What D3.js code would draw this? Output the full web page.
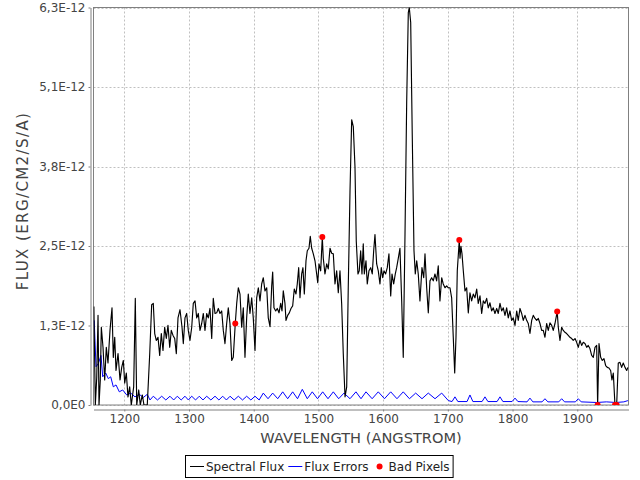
<!DOCTYPE html>
<html><head><meta charset="utf-8">
<script src="https://cdn.jsdelivr.net/npm/d3@7"></script>
<style>body{margin:0;background:#fff}svg{display:block}</style>
</head><body><svg id="c" width="640" height="480"></svg>
<script>
// Spectral flux [wavelength (Angstrom), flux (1e-12 erg/cm2/s/A)]
const fluxPoints = [
[1153.0,1.57],[1155.2,0.00],[1157.4,0.44],[1159.4,1.43],[1160.9,0.00],[1162.9,0.40],[1164.5,1.24],[1167.1,0.92],[1169.7,0.40],[1172.2,0.92],
[1174.8,0.67],[1177.9,1.19],[1181.0,1.55],[1183.0,0.76],[1185.2,1.08],[1187.2,0.55],[1190.3,0.82],[1193.4,0.40],[1196.0,0.60],[1198.5,0.71],
[1200.6,0.35],[1203.1,0.51],[1205.7,0.13],[1208.3,0.29],[1210.8,0.00],[1214.5,0.29],[1217.0,1.70],[1219.2,0.00],[1222.3,0.24],[1224.7,0.00],
[1227.8,0.16],[1230.4,0.00],[1235.5,0.00],[1239.3,0.82],[1242.3,1.60],[1244.8,1.62],[1247.0,1.14],[1249.4,1.03],[1252.1,1.08],[1254.7,0.79],
[1257.2,1.14],[1259.8,0.87],[1262.4,1.24],[1264.9,1.06],[1267.5,1.27],[1270.2,0.92],[1272.6,1.19],[1275.3,1.11],[1277.9,1.06],[1280.4,0.82],
[1283.0,1.39],[1286.1,1.52],[1289.2,1.24],[1291.2,0.98],[1293.8,1.39],[1296.4,1.46],[1298.9,1.19],[1301.5,1.03],[1304.2,1.24],[1306.6,1.62],
[1309.3,1.66],[1311.9,1.39],[1314.4,1.46],[1317.0,1.19],[1319.6,1.30],[1322.1,1.46],[1324.7,1.19],[1327.3,1.46],[1329.8,1.39],[1332.4,1.54],
[1335.1,1.06],[1337.5,1.70],[1340.2,1.46],[1342.8,1.47],[1345.3,1.54],[1347.9,1.46],[1350.5,1.50],[1353.0,1.19],[1355.6,0.98],[1358.2,1.30],
[1360.7,1.55],[1363.3,1.30],[1366.0,0.71],[1368.4,0.76],[1371.5,1.30],[1373.7,1.62],[1376.2,1.87],[1378.8,1.77],[1381.4,1.24],[1383.9,1.55],
[1386.5,0.76],[1389.1,1.39],[1391.6,1.77],[1394.2,1.46],[1396.9,1.71],[1399.3,1.39],[1402.0,0.87],[1404.6,1.71],[1407.1,1.87],[1409.7,1.66],
[1412.3,1.93],[1414.8,2.03],[1417.4,1.82],[1420.1,1.87],[1422.5,1.39],[1425.2,1.25],[1427.8,1.90],[1429.3,2.12],[1431.3,1.55],[1434.0,1.50],
[1436.4,1.54],[1439.1,1.47],[1441.7,1.62],[1443.7,1.50],[1445.7,1.82],[1448.3,1.62],[1449.9,1.35],[1452.5,1.43],[1455.0,1.47],[1457.6,1.54],
[1460.2,1.58],[1462.7,1.85],[1465.3,1.77],[1467.3,1.93],[1469.5,2.19],[1471.5,1.71],[1474.1,2.09],[1476.1,2.19],[1478.2,1.77],[1480.8,2.30],
[1482.8,2.46],[1485.4,2.50],[1487.4,2.69],[1489.6,2.50],[1492.1,2.41],[1494.7,2.30],[1497.3,2.09],[1498.9,1.95],[1500.9,2.25],[1503.5,2.14],
[1506.0,2.68],[1507.5,2.34],[1510.1,2.09],[1512.8,2.25],[1515.2,2.17],[1517.9,2.50],[1520.5,2.42],[1523.0,2.41],[1525.6,1.93],[1528.2,2.14],
[1530.7,1.79],[1533.3,2.14],[1535.9,1.62],[1538.4,0.82],[1541.1,0.13],[1543.7,0.29],[1546.1,1.87],[1548.8,3.41],[1551.4,4.55],[1553.9,4.44],
[1556.5,3.80],[1558.5,2.61],[1561.1,2.09],[1563.1,2.14],[1565.3,2.46],[1567.3,2.09],[1569.3,2.57],[1570.9,2.09],[1573.5,2.30],[1575.5,1.93],
[1578.1,2.14],[1580.8,2.19],[1583.2,2.09],[1585.4,2.46],[1587.4,2.72],[1590.0,2.25],[1592.5,2.14],[1595.1,1.93],[1597.1,2.19],[1599.3,2.03],
[1601.3,2.14],[1603.9,2.09],[1606.4,2.19],[1609.0,2.41],[1611.7,1.74],[1613.7,2.09],[1616.3,1.93],[1618.8,2.09],[1620.9,2.19],[1623.4,2.34],
[1626.0,2.50],[1628.7,1.66],[1631.1,0.76],[1633.8,2.72],[1636.4,4.83],[1638.9,6.26],[1640.4,6.34],[1642.6,6.10],[1645.0,4.31],[1647.7,2.46],
[1649.7,2.09],[1651.9,2.30],[1654.3,2.09],[1656.9,1.66],[1660.0,2.19],[1662.7,2.03],[1664.7,2.41],[1667.3,1.87],[1669.8,1.47],[1672.4,1.98],
[1675.0,2.03],[1677.5,1.98],[1680.1,2.09],[1682.7,1.98],[1685.2,2.22],[1687.8,1.66],[1690.5,2.03],[1692.9,1.93],[1695.6,1.87],[1698.2,1.90],
[1700.7,1.87],[1703.3,1.87],[1705.9,1.71],[1708.4,1.08],[1710.6,0.51],[1712.6,1.08],[1714.6,2.14],[1717.7,2.63],[1718.8,2.34],[1720.3,2.53],
[1721.9,2.41],[1723.9,2.14],[1726.5,1.82],[1729.1,1.87],[1731.6,1.47],[1734.2,1.79],[1736.8,1.66],[1739.3,1.77],[1741.9,1.71],[1744.6,1.85],
[1747.0,1.62],[1749.7,1.74],[1752.3,1.46],[1754.8,1.66],[1757.4,1.62],[1760.0,1.70],[1762.5,1.55],[1765.1,1.63],[1767.7,1.50],[1770.2,1.55],
[1772.8,1.46],[1775.5,1.54],[1777.9,1.46],[1780.6,1.62],[1783.2,1.50],[1785.7,1.55],[1788.3,1.43],[1790.9,1.55],[1793.4,1.39],[1796.0,1.50],
[1798.6,1.35],[1801.1,1.39],[1803.8,1.27],[1806.4,1.50],[1808.8,1.35],[1811.5,1.54],[1814.1,1.46],[1816.6,1.35],[1819.2,1.43],[1821.8,1.35],
[1824.3,1.30],[1826.9,1.14],[1829.6,1.35],[1832.0,1.43],[1834.7,1.38],[1837.3,1.35],[1839.8,1.38],[1842.4,1.30],[1845.0,1.19],[1847.5,1.19],
[1850.1,1.08],[1852.7,1.30],[1855.2,1.19],[1857.8,1.31],[1860.5,1.27],[1862.9,1.19],[1865.6,1.30],[1869.0,1.49],[1870.7,1.24],[1873.3,1.03],
[1875.9,1.24],[1878.4,1.19],[1881.0,1.16],[1883.6,1.14],[1886.1,1.11],[1888.7,1.08],[1891.4,1.06],[1893.8,1.03],[1896.5,1.06],[1899.1,1.00],
[1901.6,0.92],[1904.2,1.03],[1906.8,0.95],[1909.3,1.00],[1911.9,0.98],[1914.6,0.92],[1917.0,0.95],[1919.6,0.90],[1922.3,0.79],[1924.8,0.76],
[1927.4,0.92],[1930.0,0.95],[1931.5,0.00],[1933.6,0.98],[1936.2,0.76],[1938.7,0.71],[1941.3,0.74],[1943.9,0.63],[1946.4,0.60],[1949.0,0.59],
[1951.6,0.55],[1953.6,0.40],[1955.7,0.51],[1958.3,0.00],[1960.9,0.00],[1963.4,0.67],[1966.0,0.68],[1968.6,0.60],[1971.1,0.67],[1973.8,0.60],
[1976.4,0.55],[1978.3,0.60]
];
// Flux errors [wavelength, error]
const errorPoints = [
[1153.5,1.35],[1156.3,0.61],[1159.8,0.66],[1164.0,0.79],[1166.6,0.45],[1171.3,0.51],[1175.3,0.42],[1179.0,0.45],[1183.0,0.29],[1187.2,0.32],
[1192.3,0.21],[1197.5,0.24],[1203.7,0.16],[1209.9,0.19],[1216.5,0.13],[1223.2,0.17],[1229.4,0.12],[1235.5,0.17],[1239.7,0.08],
[1244.8,0.14],[1251.3,0.08],[1257.8,0.14],[1264.2,0.08],[1270.6,0.14],[1276.3,0.08],[1281.9,0.14],[1287.9,0.08],[1293.8,0.14],[1299.0,0.08],
[1304.2,0.14],[1310.1,0.08],[1315.9,0.14],[1321.6,0.08],[1327.3,0.14],[1333.8,0.08],[1340.2,0.14],[1346.2,0.08],[1352.1,0.14],[1357.8,0.08],
[1363.4,0.14],[1369.8,0.08],[1376.2,0.14],[1382.7,0.08],[1389.1,0.14],[1395.6,0.08],[1402.0,0.14],[1408.4,0.08],[1414.8,0.19],[1422.1,0.10],
[1429.3,0.19],[1437.1,0.10],[1444.8,0.21],[1452.5,0.10],[1460.2,0.21],[1467.7,0.10],[1475.1,0.25],[1482.8,0.10],[1490.5,0.21],[1498.6,0.10],
[1506.6,0.21],[1514.8,0.10],[1523.0,0.21],[1531.3,0.10],[1539.5,0.19],[1548.8,0.10],[1558.0,0.21],[1565.8,0.10],[1573.5,0.21],[1583.0,0.10],
[1592.5,0.21],[1602.1,0.10],[1611.7,0.21],[1621.4,0.10],[1631.1,0.21],[1640.7,0.10],[1650.3,0.19],[1660.1,0.10],[1669.8,0.19],[1680.2,0.10],
[1690.5,0.19],[1700.8,0.07],[1706.5,0.055],[1711.0,0.13],[1715.5,0.055],[1729.7,0.055],[1734.2,0.16],[1738.7,0.055],[1752.9,0.055],[1757.4,0.13],
[1761.9,0.055],[1776.1,0.055],[1780.6,0.13],[1785.1,0.055],[1799.3,0.055],[1803.8,0.11],[1808.3,0.055],[1822.4,0.05],[1826.9,0.11],[1831.4,0.05],
[1845.6,0.05],[1850.1,0.10],[1854.6,0.05],[1871.4,0.05],[1875.9,0.10],[1880.4,0.05],[1897.1,0.05],[1901.6,0.10],[1906.1,0.05],[1930.0,0.04],
[1945.0,0.05],[1960.0,0.04],[1972.0,0.05],[1978.3,0.07]
];
// Bad pixels [wavelength, flux]
const badPixels = [[1371.5,1.30],[1506.0,2.68],[1717.7,2.63],[1869.0,1.49],[1931.5,0.00],[1958.3,0.00],[1960.9,0.00]];

const xTicks = [1200,1300,1400,1500,1600,1700,1800,1900];
const yTicks = [0,1.268,2.536,3.804,5.072,6.34];
const yTickLabels = ["0,0E0","1,3E-12","2,5E-12","3,8E-12","5,1E-12","6,3E-12"];
const xTitle = "WAVELENGTH (ANGSTROM)";
const yTitle = "FLUX (ERG/CM2/S/A)";
const legendLabels = ["Spectral Flux","Flux Errors","Bad Pixels"];
const seriesColors = ["#000000","#0000ff","#ff0000"];

const svg = d3.select("#c");
const L = 93.5, R = 628.5, T = 7.5, B = 405;
const x = d3.scaleLinear().domain([1152.4, 1979.2]).range([L, R]);
const y = d3.scaleLinear().domain([0, 6.34]).range([B, T]);
const font = "'DejaVu Sans', sans-serif";

svg.append("defs").append("clipPath").attr("id","clip")
  .append("rect").attr("x",L).attr("y",T).attr("width",R-L).attr("height",B-T);

// grid
const grid = svg.append("g").attr("stroke","#c0c0c0").attr("stroke-width",1).attr("stroke-dasharray","2,2");
xTicks.forEach(t => {
  const px = Math.round(x(t)) + 0.5;
  grid.append("line").attr("x1",px).attr("x2",px).attr("y1",T).attr("y2",B);
});
yTicks.forEach(t => {
  const py = Math.round(y(t)) + 0.5;
  grid.append("line").attr("x1",L).attr("x2",R).attr("y1",py).attr("y2",py);
});

// plot border
svg.append("rect").attr("x",L).attr("y",T).attr("width",R-L).attr("height",B-T)
  .attr("fill","none").attr("stroke","#808080").attr("stroke-width",1);

const plot = svg.append("g").attr("clip-path","url(#clip)");
const line = d3.line().x(d => x(d[0])).y(d => y(d[1]));
plot.append("path").datum(errorPoints).attr("d",line).attr("fill","none")
  .attr("stroke",seriesColors[1]).attr("stroke-width",1);
plot.append("path").datum(fluxPoints).attr("d",line).attr("fill","none")
  .attr("stroke",seriesColors[0]).attr("stroke-width",1.15).attr("stroke-linejoin","round");
plot.selectAll("circle.bad").data(badPixels).join("circle").attr("class","bad")
  .attr("cx",d => x(d[0])).attr("cy",d => y(d[1])).attr("r",3).attr("fill",seriesColors[2]);

// axes
const yAxis = d3.axisLeft(y).tickValues(yTicks).tickFormat((d,i) => yTickLabels[i])
  .tickSizeInner(2).tickSizeOuter(0).tickPadding(3);
const gy = svg.append("g").attr("transform","translate(90.5,0)").call(yAxis);
const xAxis = d3.axisBottom(x).tickValues(xTicks).tickFormat(d3.format("d"))
  .tickSizeInner(2).tickSizeOuter(0).tickPadding(3);
const gx = svg.append("g").attr("transform","translate(0,409.5)").call(xAxis);
[gx, gy].forEach(g => {
  g.select(".domain").attr("stroke","#808080");
  g.selectAll(".tick line").attr("stroke","#808080");
  g.selectAll(".tick text").attr("fill","#444").style("font-family",font).style("font-size","12px");
});

// titles
svg.append("text").attr("x",(L+R)/2).attr("y",443).attr("text-anchor","middle")
  .style("font-family",font).style("font-size","14.6px").attr("fill","#444").text(xTitle);
svg.append("text").attr("transform",`translate(28,201) rotate(-90)`).attr("text-anchor","middle")
  .style("font-family",font).style("font-size","15px").style("letter-spacing","1.4px")
  .attr("fill","#444").text(yTitle);

// legend
const lg = svg.append("g");
const box = lg.append("rect").attr("fill","#fff").attr("stroke","#000").attr("stroke-width",1);
let cx = 0;
const items = lg.append("g");
legendLabels.forEach((lab, i) => {
  const it = items.append("g").attr("transform",`translate(${cx},0)`);
  if (i < 2) {
    it.append("line").attr("x1",0).attr("x2",14).attr("y1",0).attr("y2",0)
      .attr("stroke",seriesColors[i]).attr("stroke-width",1);
  } else {
    it.append("circle").attr("cx",7).attr("cy",0).attr("r",3).attr("fill",seriesColors[i]);
  }
  const t = it.append("text").attr("x",16).attr("y",4.5).style("font-family",font)
    .style("font-size","12px").attr("fill","#222").text(lab);
  cx += 16 + t.node().getComputedTextLength() + 4;
});
const totalW = cx - 4;
const lx = Math.round(320 - totalW/2);
items.attr("transform",`translate(${lx},466.5)`);
box.attr("x",lx-4.5).attr("y",455.5).attr("width",totalW+8).attr("height",22);
</script></body></html>
